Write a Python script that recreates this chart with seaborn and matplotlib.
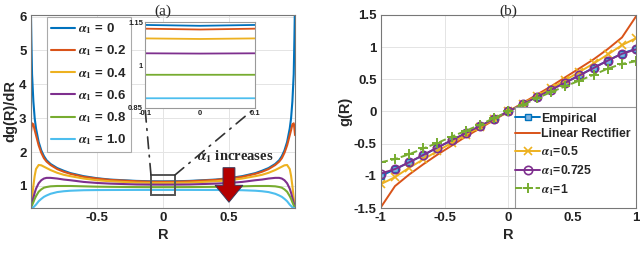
import numpy as np
import pandas as pd
import matplotlib
matplotlib.use("Agg")
import matplotlib.pyplot as plt
import seaborn as sns
from matplotlib.patches import Rectangle, FancyArrow, ConnectionPatch

# ---------------- data: panel (a) dg(R)/dR ----------------
R_a = [-1.0, -0.995, -0.99, -0.98, -0.97, -0.96, -0.94, -0.92, -0.9, -0.88, -0.85, -0.8, -0.75, -0.7,
       -0.6, -0.5, -0.4, -0.2, -0.1, 0.0, 0.1, 0.2, 0.4, 0.5, 0.6, 0.7, 0.75, 0.8, 0.85, 0.88, 0.9,
       0.92, 0.94, 0.96, 0.97, 0.98, 0.99, 0.995, 1.0]
d_a0 = [6.5, 5.3, 4.3, 3.5, 3.0, 2.7, 2.3, 2.05, 1.88, 1.76, 1.65, 1.53, 1.45, 1.38,
        1.29, 1.23, 1.19, 1.15, 1.14, 1.137, 1.14, 1.15, 1.19, 1.23, 1.29, 1.38, 1.45, 1.53, 1.65, 1.76, 1.88,
        2.05, 2.3, 2.7, 3.0, 3.5, 4.3, 5.3, 6.5]
d_a02 = [2.5, 2.7, 2.85, 2.82, 2.65, 2.5, 2.2, 1.98, 1.82, 1.72, 1.62, 1.5, 1.42, 1.36,
         1.27, 1.22, 1.18, 1.14, 1.127, 1.124, 1.127, 1.14, 1.18, 1.22, 1.27, 1.36, 1.42, 1.5, 1.62, 1.72, 1.82,
         1.98, 2.2, 2.5, 2.65, 2.82, 2.85, 2.7, 2.5]
d_a04 = [0.38, 0.5, 0.65, 1.0, 1.3, 1.5, 1.62, 1.61, 1.57, 1.53, 1.47, 1.39, 1.33, 1.29,
         1.22, 1.17, 1.14, 1.10, 1.093, 1.091, 1.093, 1.10, 1.14, 1.17, 1.22, 1.29, 1.33, 1.39, 1.47, 1.53, 1.57,
         1.61, 1.62, 1.5, 1.3, 1.0, 0.65, 0.5, 0.38]
d_a06 = [0.37, 0.42, 0.5, 0.65, 0.8, 0.92, 1.08, 1.17, 1.22, 1.24, 1.24, 1.22, 1.19, 1.17,
         1.12, 1.09, 1.07, 1.045, 1.041, 1.04, 1.041, 1.045, 1.07, 1.09, 1.12, 1.17, 1.19, 1.22, 1.24, 1.24, 1.22,
         1.17, 1.08, 0.92, 0.8, 0.65, 0.5, 0.42, 0.37]
d_a08 = [0.36, 0.39, 0.43, 0.52, 0.62, 0.7, 0.83, 0.9, 0.95, 0.97, 0.99, 1.0, 1.0, 1.0,
         0.99, 0.98, 0.975, 0.968, 0.966, 0.966, 0.966, 0.968, 0.975, 0.98, 0.99, 1.0, 1.0, 1.0, 0.99, 0.97, 0.95,
         0.9, 0.83, 0.7, 0.62, 0.52, 0.43, 0.39, 0.36]
d_a10 = [0.35, 0.35, 0.35, 0.37, 0.41, 0.45, 0.55, 0.62, 0.68, 0.72, 0.77, 0.82, 0.845, 0.86,
         0.875, 0.88, 0.882, 0.884, 0.884, 0.884, 0.884, 0.884, 0.882, 0.88, 0.875, 0.86, 0.845, 0.82, 0.77, 0.72, 0.68,
         0.62, 0.55, 0.45, 0.41, 0.37, 0.35, 0.35, 0.35]
labels_a = ["0", "0.2", "0.4", "0.6", "0.8", "1.0"]

# ---------------- data: panel (b) g(R) ----------------
R_b = [-1.0, -0.889, -0.778, -0.667, -0.556, -0.444, -0.333, -0.222, -0.111, 0.0,
       0.111, 0.222, 0.333, 0.444, 0.556, 0.667, 0.778, 0.889, 1.0]
g_emp = [-1.0, -0.90, -0.79, -0.68, -0.56, -0.45, -0.34, -0.23, -0.115, 0.0,
         0.12, 0.23, 0.35, 0.45, 0.56, 0.68, 0.79, 0.90, 0.975]
g_lin = [-1.49, -1.16, -0.98, -0.82, -0.67, -0.53, -0.39, -0.26, -0.13, 0.0,
         0.13, 0.26, 0.39, 0.53, 0.67, 0.81, 0.97, 1.15, 1.48]
g_a05 = [-1.13, -1.02, -0.875, -0.745, -0.615, -0.485, -0.36, -0.24, -0.12, 0.0,
         0.12, 0.24, 0.36, 0.485, 0.615, 0.745, 0.885, 1.03, 1.14]
g_a0725 = [-0.965, -0.895, -0.79, -0.675, -0.56, -0.445, -0.335, -0.225, -0.112, 0.0,
           0.112, 0.225, 0.335, 0.445, 0.56, 0.675, 0.79, 0.895, 0.965]
g_a1 = [-0.79, -0.74, -0.665, -0.575, -0.49, -0.39, -0.30, -0.205, -0.10, 0.0,
        0.10, 0.205, 0.30, 0.39, 0.48, 0.57, 0.665, 0.74, 0.78]

xt_a = [-0.5, 0, 0.5]; xtl_a = ["-0.5", "0", "0.5"]
yt_a = [1, 2, 3, 4, 5, 6]; ytl_a = ["1", "2", "3", "4", "5", "6"]
xt_b = [-1, -0.5, 0, 0.5, 1]; xtl_b = ["-1", "-0.5", "0", "0.5", "1"]
yt_b = [-1.5, -1, -0.5, 0, 0.5, 1, 1.5]; ytl_b = ["-1.5", "-1", "-0.5", "0", "0.5", "1", "1.5"]
xt_in = [-0.1, 0, 0.1]; xtl_in = ["-0.1", "0", "0.1"]
yt_in = [0.85, 1.0, 1.15]; ytl_in = ["0.85", "1", "1.15"]

# ---------------- style ----------------
sns.set_style("white")
plt.rcParams["font.family"] = ["Liberation Sans", "DejaVu Sans"]
plt.rcParams["font.weight"] = "bold"
plt.rcParams["mathtext.fontset"] = "stix"
plt.rcParams["axes.edgecolor"] = "#555555"
plt.rcParams["axes.linewidth"] = 0.8

mcol = ["#0072BD", "#D95319", "#EDB120", "#7E2F8E", "#77AC30", "#4DBEEE"]

fig = plt.figure(figsize=(6.4, 2.66), dpi=100)
ax1 = fig.add_axes([0.048, 0.218, 0.413, 0.726])
ax2 = fig.add_axes([0.595, 0.218, 0.399, 0.726])
axin = fig.add_axes([0.2266, 0.594, 0.172, 0.323])

def style_axis(ax, xt, xtl, yt, ytl, fs=9.5):
    ax.set_xticks(xt)
    ax.set_xticklabels(xtl, fontsize=fs, fontweight="bold")
    ax.set_yticks(yt)
    ax.set_yticklabels(ytl, fontsize=fs, fontweight="bold")
    ax.tick_params(direction="in", length=3, width=0.6, colors="#222222", pad=3)
    for s in ax.spines.values():
        s.set_visible(True)
        s.set_color("#777777")
        s.set_linewidth(0.8)

# ---------------- panel (a) ----------------
curves_a = [d_a0, d_a02, d_a04, d_a06, d_a08, d_a10]
for vals, lab, c in zip(curves_a, labels_a, mcol):
    sns.lineplot(x=R_a, y=vals, ax=ax1, color=c, lw=1.5, sort=False, estimator=None,
                 label=r"$\alpha_1$ = " + lab)
ax1.set_xlim(-1, 1)
ax1.set_ylim(0.35, 6.05)
ax1.grid(True, color="#e4e4e4", lw=0.7)
ax1.set_axisbelow(True)
style_axis(ax1, xt_a, xtl_a, yt_a, ytl_a)
ax1.set_xlabel("R", fontsize=10.5, fontweight="bold", labelpad=3)
ax1.set_ylabel("dg(R)/dR", fontsize=10.5, fontweight="bold", labelpad=1)
ax1.set_title("(a)", fontsize=11, fontweight="normal", family="Liberation Serif", pad=0)
leg = ax1.legend(loc="upper left", bbox_to_anchor=(0.06, 0.99), borderaxespad=0,
                 handlelength=1.8, fontsize=9.5, labelspacing=0.56, frameon=True,
                 fancybox=False, framealpha=1, edgecolor="#aaaaaa", borderpad=0.35,
                 handletextpad=0.25)
leg.get_frame().set_linewidth(0.8)
for t in leg.get_texts():
    t.set_fontweight("bold")

# zoom box, arrow, annotation
box = Rectangle((-0.09, 0.72), 0.18, 0.6, fill=False, ec="#555555", lw=1.4, zorder=5)
ax1.add_patch(box)
arr = FancyArrow(0.5, 1.54, 0, -1.02, width=0.09, head_width=0.21, head_length=0.5,
                 length_includes_head=True, fc="#B40000", ec="#3a3a5a", lw=0.7, zorder=6)
ax1.add_patch(arr)
ax1.text(0.55, 1.87, r"$\alpha_1$ increases", fontsize=10.5, fontweight="bold",
         family="Liberation Serif", ha="center", va="center", zorder=6)

# inset
for vals, c in zip(curves_a, mcol):
    sns.lineplot(x=R_a, y=vals, ax=axin, color=c, lw=1.3, sort=False, estimator=None, legend=False)
axin.set_xlim(-0.1, 0.1)
axin.set_ylim(0.85, 1.15)
axin.set_facecolor("white")
style_axis(axin, xt_in, xtl_in, yt_in, ytl_in, fs=5.5)
axin.tick_params(length=2, pad=1.5)
axin.set_xlabel(""); axin.set_ylabel("")
for s in axin.spines.values():
    s.set_color("#999999")

for xy_b, xy_in in [((-0.09, 1.32), (0, 0)), ((0.09, 1.32), (1, 0))]:
    con = ConnectionPatch(xyA=xy_b, coordsA=ax1.transData, xyB=xy_in, coordsB=axin.transAxes,
                          ls=(0, (7, 4, 1, 4)), color="#333333", lw=1.2, zorder=4)
    fig.add_artist(con)
axin.set_zorder(10)

# ---------------- panel (b) ----------------
sns.lineplot(x=R_b, y=g_emp, ax=ax2, color=mcol[0], lw=1.4, marker="s", markersize=5,
             markerfacecolor="#7fb3e0", markeredgecolor=mcol[0], markeredgewidth=1.0,
             sort=False, estimator=None, label="Empirical")
sns.lineplot(x=R_b, y=g_lin, ax=ax2, color=mcol[1], lw=1.4, sort=False, estimator=None,
             label="Linear Rectifier")
sns.lineplot(x=R_b, y=g_a05, ax=ax2, color=mcol[2], lw=1.4, marker="x", markersize=5.5,
             markeredgecolor=mcol[2], markeredgewidth=1.2, sort=False, estimator=None,
             label=r"$\alpha_1$=0.5")
sns.lineplot(x=R_b, y=g_a0725, ax=ax2, color=mcol[3], lw=1.4, marker="o", markersize=6,
             markerfacecolor="none", markeredgecolor=mcol[3], markeredgewidth=1.2,
             sort=False, estimator=None, label=r"$\alpha_1$=0.725")
sns.lineplot(x=R_b, y=g_a1, ax=ax2, color=mcol[4], lw=1.4, marker="+", markersize=7,
             markeredgecolor=mcol[4], markeredgewidth=1.4, linestyle="--", dashes=(3, 3),
             sort=False, estimator=None, label=r"$\alpha_1$=1")
ax2.set_xlim(-1, 1)
ax2.set_ylim(-1.5, 1.5)
ax2.grid(True, color="#e4e4e4", lw=0.7)
ax2.set_axisbelow(True)
style_axis(ax2, xt_b, xtl_b, yt_b, ytl_b)
ax2.set_xlabel("R", fontsize=10.5, fontweight="bold", labelpad=3)
ax2.set_ylabel("g(R)", fontsize=10.5, fontweight="bold", labelpad=1)
ax2.set_title("(b)", fontsize=11, fontweight="normal", family="Liberation Serif", pad=0)

# legend frame box reaching the axes' lower-right corner, legend entries inside
frame_b = Rectangle((0.525, 0.0), 0.475, 0.523, transform=ax2.transAxes, fc="white",
                    ec="#999999", lw=0.8, zorder=4.5)
ax2.add_patch(frame_b)
leg2 = ax2.legend(loc="upper right", bbox_to_anchor=(1.0, 0.523), borderaxespad=0,
                  handlelength=2.0, fontsize=8.8, labelspacing=0.32, frameon=False,
                  borderpad=0.45, handletextpad=0.1)
leg2.set_zorder(5)
for t in leg2.get_texts():
    t.set_fontweight("bold")

fig.savefig("out.png", dpi=100)
